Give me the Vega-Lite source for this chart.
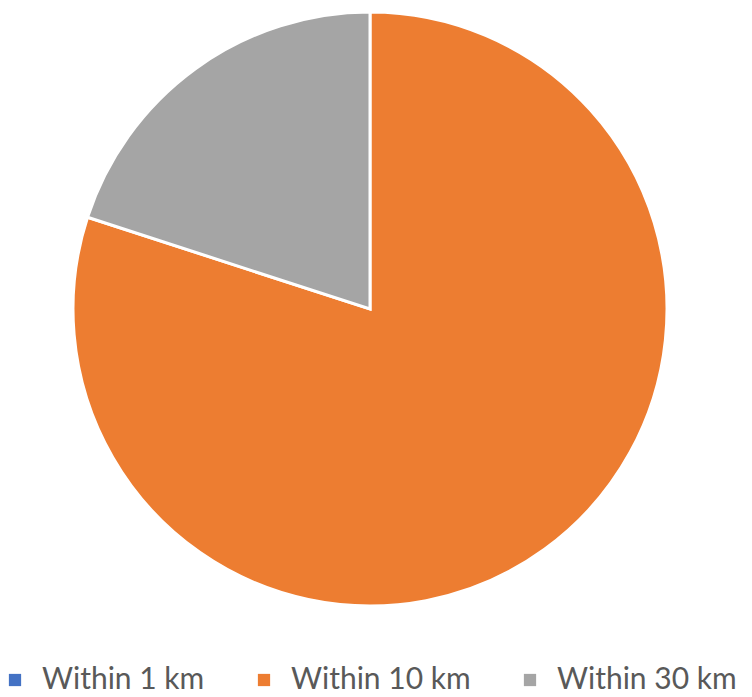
{
  "$schema": "https://vega.github.io/schema/vega-lite/v6.json",
  "width": 740,
  "height": 618,
  "padding": 0,
  "background": "white",
  "view": {"stroke": null},
  "data": {"values": [
    {"category": "Within 1 km", "value": 0},
    {"category": "Within 10 km", "value": 80},
    {"category": "Within 30 km", "value": 20}
  ]},
  "mark": {"type": "arc", "outerRadius": 297, "stroke": "white", "strokeWidth": 3},
  "encoding": {
    "theta": {"field": "value", "type": "quantitative", "stack": true},
    "color": {
      "field": "category", "type": "nominal",
      "scale": {"domain": ["Within 1 km", "Within 10 km", "Within 30 km"], "range": ["#4472C4", "#ED7D31", "#A5A5A5"]},
      "sort": null,
      "legend": {
        "orient": "bottom", "direction": "horizontal", "title": null,
        "symbolType": "square", "symbolSize": 150, "symbolStrokeWidth": 0,
        "labelFont": "Lato", "labelFontSize": 30, "labelColor": "#595959",
        "labelLimit": 400, "columnPadding": 44, "offset": 47, "symbolOffset": 0, "labelOffset": 12
      }
    }
  }
}
